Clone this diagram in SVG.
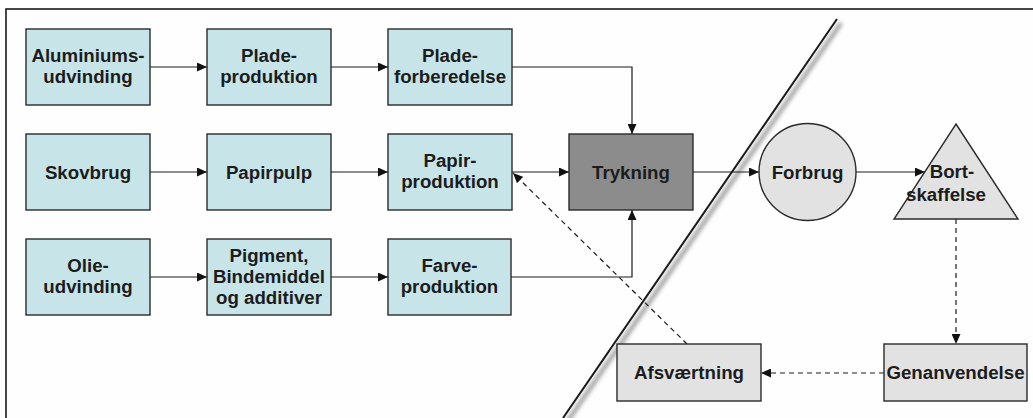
<svg xmlns="http://www.w3.org/2000/svg" width="1033" height="418" viewBox="0 0 1033 418">
  <defs>
    <style>
      .proc { fill: #c7e5e9; stroke: #2a2a2a; stroke-width: 1.4; }
      .grey { fill: #e2e2e2; stroke: #2a2a2a; stroke-width: 1.4; }
      .dark { fill: #8c8c8c; stroke: #2a2a2a; stroke-width: 1.4; }
      .lbl { font-family: "Liberation Sans", Arial, sans-serif; font-weight: bold; font-size: 18.7px; fill: #1c1c1c; text-anchor: middle; }
      .flow { fill: none; stroke: #1a1a1a; stroke-width: 1.2; marker-end: url(#arrow); }
      .dash { fill: none; stroke: #1a1a1a; stroke-width: 1.2; stroke-dasharray: 5 4; marker-end: url(#arrow); }
    </style>
    <marker id="arrow" markerUnits="userSpaceOnUse" markerWidth="10" markerHeight="9" refX="10" refY="4.5" orient="auto">
      <path d="M0,0 L10,4.5 L0,9 z" fill="#111"/>
    </marker>
    <filter id="soft" x="-20%" y="-20%" width="140%" height="140%">
      <feGaussianBlur stdDeviation="2.2"/>
    </filter>
  </defs>

  <rect x="0" y="0" width="1033" height="418" fill="#fefefe"/>
  <!-- outer frame -->
  <rect x="6" y="9" width="1100" height="500" fill="none" stroke="#1a1a1a" stroke-width="1.6"/>

  <!-- boundary line with soft shadow -->
  <g id="boundary">
    <line x1="841" y1="23" x2="567" y2="422" stroke="#8a8a8a" stroke-width="3.5" filter="url(#soft)"/>
    <line x1="837" y1="19" x2="563" y2="418" stroke="#1a1a1a" stroke-width="2"/>
  </g>

  <g id="connectors">
    <path class="flow" d="M150,67 H207"/>
    <path class="flow" d="M331,67 H388"/>
    <path class="flow" d="M512,67 H632 V134"/>
    <path class="flow" d="M150,172 H207"/>
    <path class="flow" d="M331,172 H388"/>
    <path class="flow" d="M512,172 H569"/>
    <path class="flow" d="M150,277 H207"/>
    <path class="flow" d="M331,277 H388"/>
    <path class="flow" d="M511,277 H632 V210"/>
    <path class="flow" d="M693,172 H759"/>
    <path class="flow" d="M856,172 H925"/>
    <path class="dash" d="M956,219 V344"/>
    <path class="dash" d="M884,373 H761"/>
    <path class="dash" d="M687,344 L513,173"/>
  </g>

  <g id="aluminiumsudvinding">
    <rect class="proc" x="26" y="29" width="124" height="76"/>
    <text class="lbl" x="88" y="62">Aluminiums-</text>
    <text class="lbl" x="88" y="83">udvinding</text>
  </g>
  <g id="pladeproduktion">
    <rect class="proc" x="207" y="29" width="124" height="76"/>
    <text class="lbl" x="269" y="62">Plade-</text>
    <text class="lbl" x="269" y="83">produktion</text>
  </g>
  <g id="pladeforberedelse">
    <rect class="proc" x="388" y="29" width="124" height="76"/>
    <text class="lbl" x="450" y="62">Plade-</text>
    <text class="lbl" x="450" y="83">forberedelse</text>
  </g>

  <g id="skovbrug">
    <rect class="proc" x="26" y="134" width="124" height="76"/>
    <text class="lbl" x="88" y="178.5">Skovbrug</text>
  </g>
  <g id="papirpulp">
    <rect class="proc" x="207" y="134" width="124" height="76"/>
    <text class="lbl" x="269" y="178.5">Papirpulp</text>
  </g>
  <g id="papirproduktion">
    <rect class="proc" x="388" y="134" width="124" height="76"/>
    <text class="lbl" x="450" y="167">Papir-</text>
    <text class="lbl" x="450" y="188">produktion</text>
  </g>
  <g id="trykning">
    <rect class="dark" x="569" y="134" width="124" height="76"/>
    <text class="lbl" x="631" y="178.5">Trykning</text>
  </g>

  <g id="olieudvinding">
    <rect class="proc" x="26" y="239" width="124" height="76"/>
    <text class="lbl" x="88" y="272">Olie-</text>
    <text class="lbl" x="88" y="293">udvinding</text>
  </g>
  <g id="pigment">
    <rect class="proc" x="207" y="239" width="124" height="76"/>
    <text class="lbl" x="269" y="262">Pigment,</text>
    <text class="lbl" x="269" y="283">Bindemiddel</text>
    <text class="lbl" x="269" y="304">og additiver</text>
  </g>
  <g id="farveproduktion">
    <rect class="proc" x="388" y="239" width="123" height="76"/>
    <text class="lbl" x="449.5" y="272">Farve-</text>
    <text class="lbl" x="449.5" y="293">produktion</text>
  </g>

  <g id="forbrug">
    <circle class="grey" cx="807.5" cy="172" r="48.5"/>
    <text class="lbl" x="807.5" y="178.5">Forbrug</text>
  </g>
  <g id="bortskaffelse">
    <polygon class="grey" points="956,124 1018,219 894,219"/>
    <text class="lbl" x="952" y="178">Bort-</text>
    <text class="lbl" x="946" y="201">skaffelse</text>
  </g>

  <g id="afsvaertning">
    <rect class="grey" x="617" y="344" width="144" height="57"/>
    <text class="lbl" x="689" y="379">Afsværtning</text>
  </g>
  <g id="genanvendelse">
    <rect class="grey" x="884" y="344" width="143" height="57"/>
    <text class="lbl" x="955.5" y="379">Genanvendelse</text>
  </g>
</svg>
